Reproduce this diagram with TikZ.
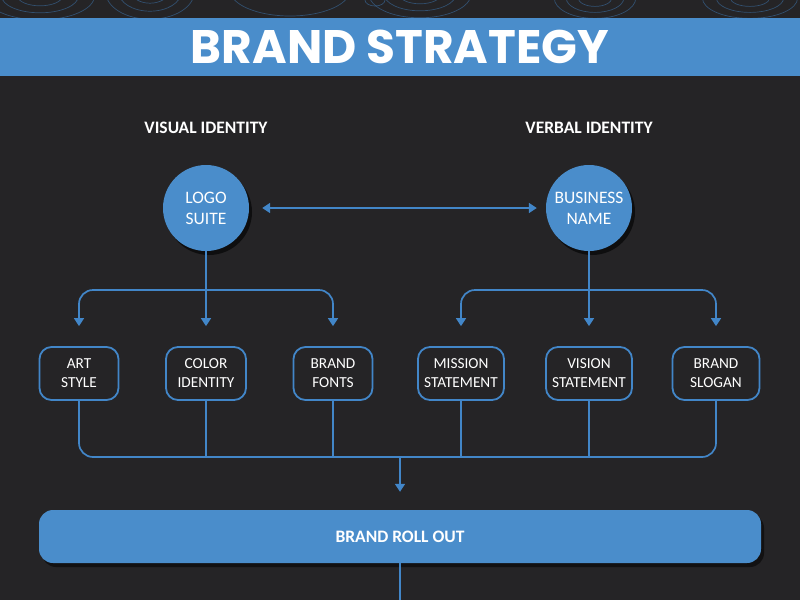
\documentclass[tikz,border=0pt]{standalone}
\usepackage{fontspec}
\setmainfont{Carlito}
\newfontfamily\titulofonte{Poppins}
\usepackage{xcolor}
\usepackage{tikz}
\usetikzlibrary{arrows.meta,positioning,shadows,calc}
\definecolor{fundo}{RGB}{37,36,38}
\definecolor{azul}{RGB}{74,141,203}
\definecolor{linha}{RGB}{66,134,200}
\tikzset{
    faixa/.style={
        rectangle,
        fill=azul,
        inner sep=0pt,
        minimum width=800pt,
        minimum height=58pt,
        text=white,
        font=\titulofonte\bfseries\fontsize{47}{50}\selectfont
    },
    cabecalho/.style={text=white, font=\bfseries\fontsize{17.5}{20}\selectfont},
    circulo/.style={
        circle,
        fill=azul,
        inner sep=0pt,
        minimum size=86pt,
        align=center,
        text=white,
        font=\fontsize{17.5}{21}\selectfont,
        drop shadow={opacity=0.6, shadow xshift=3pt, shadow yshift=-4pt, fill=black}
    },
    caixa/.style={
        rectangle,
        draw=linha,
        line width=1.8pt,
        rounded corners=12pt,
        align=center,
        inner sep=2pt,
        minimum height=53pt,
        text=white,
        font=\fontsize{15.3}{19}\selectfont
    },
    barra/.style={
        rectangle,
        fill=azul,
        rounded corners=14pt,
        inner sep=0pt,
        minimum width=722pt,
        minimum height=53pt,
        text=white,
        font=\bfseries\fontsize{17.5}{20}\selectfont,
        drop shadow={opacity=0.5, shadow xshift=3pt, shadow yshift=-4pt, fill=black}
    },
    ligacao/.style={draw=linha, line width=1.7pt},
    fluxo/.style={ligacao, -{Triangle[length=8pt,width=10pt]}},
    relevo/.style={draw=linha, line width=0.7pt, opacity=0.45}
}

\begin{document}
\begin{tikzpicture}[x=1pt, y=-1pt]
    \fill[fundo] (0,0) rectangle (800,600);

    % contour lines at the top
    \begin{scope}
        \clip (0,0) rectangle (800,18);
        \foreach \r in {14,24,34} {
            \draw[relevo] (40,-4) ellipse ({1.6*\r} and {0.7*\r});
            \draw[relevo] (150,-8) ellipse ({1.3*\r} and {0.8*\r});
            \draw[relevo] (420,-6) ellipse ({1.5*\r} and {0.7*\r});
            \draw[relevo] (595,-2) ellipse ({1.2*\r} and {0.6*\r});
            \draw[relevo] (750,-2) ellipse ({1.4*\r} and {0.6*\r});
        }
        \draw[relevo] (375,0) ellipse (10 and 6);
        \draw[relevo] (290,-10) ellipse (60 and 26);
    \end{scope}

    \node[faixa] (titulo) at (400,47) {BRAND STRATEGY};

    \node[cabecalho] (visual) at (206,128) {VISUAL IDENTITY};
    \node[cabecalho] (verbal) at (589,128) {VERBAL IDENTITY};

    \node[circulo] (logo) at (206,208) {LOGO\\SUITE};
    \node[circulo] (nome) at (589,208) {BUSINESS\\NAME};

    \node[caixa, minimum width=79pt] (arte) at (79,373.5) {ART\\STYLE};
    \node[caixa, minimum width=80pt] (cor) at (206,373.5) {COLOR\\IDENTITY};
    \node[caixa, minimum width=79pt] (fontes) at (333,373.5) {BRAND\\FONTS};
    \node[caixa, minimum width=86pt] (missao) at (461,373.5) {MISSION\\STATEMENT};
    \node[caixa, minimum width=86pt] (visao) at (589,373.5) {VISION\\STATEMENT};
    \node[caixa, minimum width=87pt] (slogan) at (716,373.5) {BRAND\\SLOGAN};

    \node[barra] (lancamento) at (400,536.5) {BRAND ROLL OUT};

    \coordinate (ramoesq) at (206,290);
    \coordinate (ramodir) at (589,290);
    \coordinate (junta) at (400,457);
    \coordinate (fim) at (400,600);

    \draw[ligacao, {Triangle[length=8pt,width=10pt]}-{Triangle[length=8pt,width=10pt]}]
        ([xshift=13pt]logo.east) -- ([xshift=-9pt]nome.west);

    \draw[ligacao] (logo.south) -- (ramoesq);
    \draw[fluxo, rounded corners=14pt] (ramoesq) -| ([yshift=20pt]arte.north);
    \draw[fluxo] (ramoesq) -- ([yshift=20pt]cor.north);
    \draw[fluxo, rounded corners=14pt] (ramoesq) -| ([yshift=20pt]fontes.north);

    \draw[ligacao] (nome.south) -- (ramodir);
    \draw[fluxo, rounded corners=14pt] (ramodir) -| ([yshift=20pt]missao.north);
    \draw[fluxo] (ramodir) -- ([yshift=20pt]visao.north);
    \draw[fluxo, rounded corners=14pt] (ramodir) -| ([yshift=20pt]slogan.north);

    \draw[ligacao, rounded corners=14pt] (arte.south) |- (junta);
    \draw[ligacao, rounded corners=14pt] (slogan.south) |- (junta);
    \draw[ligacao] (cor.south) -- (cor.south |- junta);
    \draw[ligacao] (fontes.south) -- (fontes.south |- junta);
    \draw[ligacao] (missao.south) -- (missao.south |- junta);
    \draw[ligacao] (visao.south) -- (visao.south |- junta);
    \draw[fluxo] (junta) -- ([yshift=18pt]lancamento.north);

    \draw[ligacao] (lancamento.south) -- (fim);
\end{tikzpicture}
\end{document}
